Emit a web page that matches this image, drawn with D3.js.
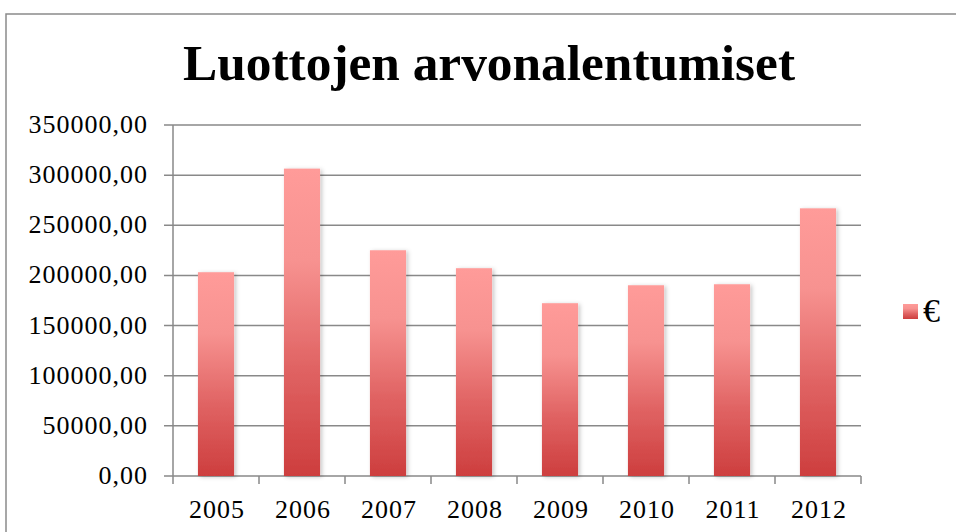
<!DOCTYPE html>
<html>
<head>
<meta charset="utf-8">
<script src="https://cdn.jsdelivr.net/npm/d3@7"></script>
<style>
	body { margin: 0; background: #fff; }
	svg { display: block; }
</style>
</head>
<body>
<div id="chart"></div>
<script>
var years = ["2005", "2006", "2007", "2008", "2009", "2010", "2011", "2012"];
var values = [203200, 306500, 225100, 207200, 172300, 190200, 191200, 266900];
var yTicks = [0, 50000, 100000, 150000, 200000, 250000, 300000, 350000];
var seriesName = "€";
var title = "Luottojen arvonalentumiset";

var width = 956, height = 532;
var plotLeft = 173, plotRight = 861, plotTop = 125, plotBottom = 476;

var svg = d3.select("#chart")
	.append("svg")
	.attr("width", width)
	.attr("height", height);

var defs = svg.append("defs");

var grad = defs.append("linearGradient")
	.attr("id", "barGrad")
	.attr("x1", 0).attr("y1", 0)
	.attr("x2", 0).attr("y2", 1);
grad.append("stop").attr("offset", "0%").attr("stop-color", "#ff9b99");
grad.append("stop").attr("offset", "30%").attr("stop-color", "#f79290");
grad.append("stop").attr("offset", "65%").attr("stop-color", "#e06363");
grad.append("stop").attr("offset", "100%").attr("stop-color", "#cd3e3e");

var shadow = defs.append("filter")
	.attr("id", "shadow")
	.attr("x", "-20%").attr("y", "-5%")
	.attr("width", "150%").attr("height", "110%");
shadow.append("feDropShadow")
	.attr("dx", 2).attr("dy", 1)
	.attr("stdDeviation", 2)
	.attr("flood-color", "#000")
	.attr("flood-opacity", 0.22);

// outer frame
svg.append("rect")
	.attr("x", 6)
	.attr("y", 14)
	.attr("width", 970)
	.attr("height", 540)
	.attr("fill", "none")
	.attr("stroke", "#8a8a8a")
	.attr("stroke-width", 1.5);

svg.append("text")
	.attr("x", 489)
	.attr("y", 80)
	.attr("text-anchor", "middle")
	.attr("font-family", "'Liberation Serif', serif")
	.attr("font-weight", "bold")
	.attr("font-size", "50px")
	.attr("textLength", 612)
	.attr("lengthAdjust", "spacingAndGlyphs")
	.attr("fill", "#000")
	.text(title);

var x = d3.scaleBand()
	.domain(years)
	.range([plotLeft, plotRight]);

var y = d3.scaleLinear()
	.domain([0, 350000])
	.range([plotBottom, plotTop]);

// gridlines and y ticks
svg.selectAll(".grid")
	.data(yTicks)
	.enter()
	.append("line")
	.attr("class", "grid")
	.attr("x1", plotLeft - 9)
	.attr("x2", plotRight)
	.attr("y1", function(d) { return y(d); })
	.attr("y2", function(d) { return y(d); })
	.attr("stroke", "#898989")
	.attr("stroke-width", 1.5);

svg.selectAll(".ylab")
	.data(yTicks)
	.enter()
	.append("text")
	.attr("class", "ylab")
	.attr("x", 148)
	.attr("y", function(d) { return y(d) + 8; })
	.attr("text-anchor", "end")
	.attr("font-family", "'Liberation Serif', serif")
	.attr("font-size", "26px")
	.attr("letter-spacing", "1px")
	.attr("fill", "#000")
	.text(function(d) { return d3.format(".2f")(d).replace(".", ","); });

// y axis line
svg.append("line")
	.attr("x1", plotLeft).attr("x2", plotLeft)
	.attr("y1", plotTop).attr("y2", plotBottom)
	.attr("stroke", "#898989")
	.attr("stroke-width", 1.5);

// x ticks at category edges
var edges = years.map(function(d) { return x(d); }).concat([plotRight]);
svg.selectAll(".xtick")
	.data(edges)
	.enter()
	.append("line")
	.attr("class", "xtick")
	.attr("x1", function(d) { return d; })
	.attr("x2", function(d) { return d; })
	.attr("y1", plotBottom)
	.attr("y2", plotBottom + 8)
	.attr("stroke", "#898989")
	.attr("stroke-width", 1.5);

var barW = x.bandwidth() * 0.42;

svg.selectAll(".bar")
	.data(values)
	.enter()
	.append("rect")
	.attr("class", "bar")
	.attr("x", function(d, i) { return x(years[i]) + x.bandwidth() / 2 - barW / 2; })
	.attr("y", function(d) { return y(d); })
	.attr("width", barW)
	.attr("height", function(d) { return y(0) - y(d); })
	.attr("fill", "url(#barGrad)")
	.attr("filter", "url(#shadow)");

svg.selectAll(".xlab")
	.data(years)
	.enter()
	.append("text")
	.attr("class", "xlab")
	.attr("x", function(d) { return x(d) + x.bandwidth() / 2 + 1; })
	.attr("y", 518)
	.attr("text-anchor", "middle")
	.attr("font-family", "'Liberation Serif', serif")
	.attr("font-size", "26px")
	.attr("letter-spacing", "1px")
	.attr("fill", "#000")
	.text(function(d) { return d; });

// legend
svg.append("rect")
	.attr("x", 903)
	.attr("y", 304)
	.attr("width", 15)
	.attr("height", 15)
	.attr("fill", "url(#barGrad)");

svg.append("text")
	.attr("x", 923)
	.attr("y", 322)
	.attr("font-family", "'Liberation Serif', serif")
	.attr("font-size", "34px")
	.attr("fill", "#000")
	.text(seriesName);
</script>
</body>
</html>
